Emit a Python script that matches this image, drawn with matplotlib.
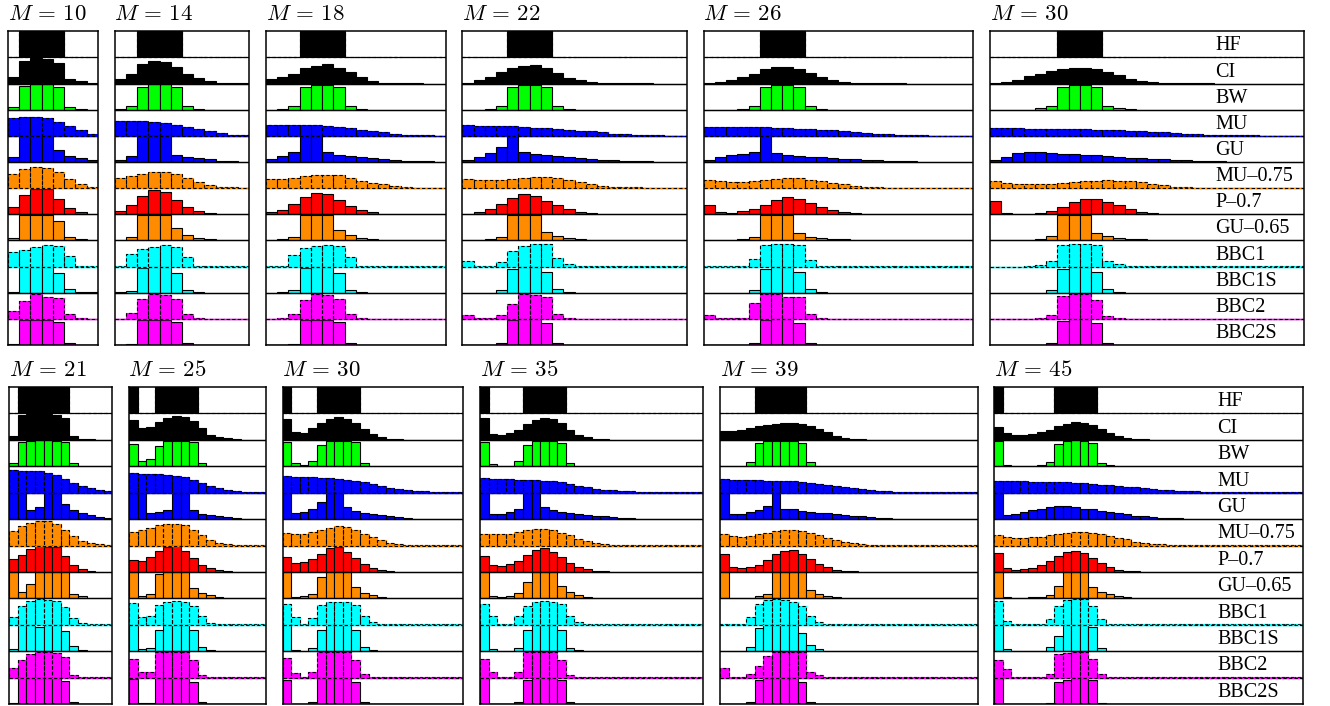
import numpy as np
import matplotlib
matplotlib.use("Agg")
import matplotlib.pyplot as plt
from matplotlib.transforms import blended_transform_factory

plt.rcParams['mathtext.fontset'] = 'cm'
plt.rcParams['font.family'] = ['Liberation Serif', 'DejaVu Serif']

# rows of every panel, top to bottom
methods = ["HF", "CI", "BW", "MU", "GU", "MU–0.75", "P–0.7", "GU–0.65",
           "BBC1", "BBC1S", "BBC2", "BBC2S"]
colors = ["black", "black", "#00ff00", "#0000ff", "#0000ff", "#ff8c00",
          "#ff0000", "#ff8c00", "#00ffff", "#00ffff", "#ff00ff", "#ff00ff"]
dashed = [True, False, False, True, False, True, False, False, True, False, True, False]

top_M = [10, 14, 18, 22, 26, 30]
top_bins = [8, 12, 16, 20, 24, 28]
bot_M = [21, 25, 30, 35, 39, 45]
bot_bins = [12, 16, 21, 26, 30, 36]

# histogram heights, in units of one row height
top_m10 = {
    "HF": [0, 1, 1, 1, 1, 0, 0, 0],
    "CI": [0.25, 0.88, 0.97, 0.95, 0.8, 0.17, 0.08, 0.02],
    "BW": [0.12, 0.9, 0.97, 0.97, 0.88, 0.1, 0.01, 0],
    "MU": [0.7, 0.74, 0.72, 0.67, 0.53, 0.36, 0.22, 0.09],
    "GU": [0.18, 0.98, 0.98, 0.98, 0.45, 0.23, 0.14, 0.07],
    "MU–0.75": [0.55, 0.72, 0.81, 0.78, 0.6, 0.35, 0.14, 0.05],
    "P–0.7": [0.28, 0.75, 0.96, 0.96, 0.6, 0.24, 0.09, 0.03],
    "GU–0.65": [0.08, 0.98, 0.98, 0.98, 0.73, 0.13, 0.05, 0.01],
    "BBC1": [0.54, 0.65, 0.74, 0.81, 0.77, 0.41, 0.04, 0.03],
    "BBC1S": [0.04, 0.98, 0.98, 0.98, 0.75, 0.14, 0.02, 0.01],
    "BBC2": [0.3, 0.67, 0.97, 0.85, 0.8, 0.19, 0.03, 0.01],
    "BBC2S": [0.02, 0.97, 0.97, 0.97, 0.87, 0.07, 0.01, 0],
}
top_m14 = {
    "HF": [0, 0, 1, 1, 1, 1, 0, 0, 0, 0, 0, 0],
    "CI": [0.18, 0.38, 0.73, 0.86, 0.81, 0.64, 0.37, 0.2, 0.09, 0.02, 0.01, 0.01],
    "BW": [0.01, 0.15, 0.87, 0.97, 0.97, 0.87, 0.14, 0.02, 0, 0, 0, 0],
    "MU": [0.55, 0.55, 0.55, 0.53, 0.49, 0.41, 0.33, 0.26, 0.17, 0.1, 0.05, 0.03],
    "GU": [0.07, 0.23, 0.98, 0.98, 0.98, 0.27, 0.18, 0.15, 0.1, 0.05, 0.02, 0.01],
    "MU–0.75": [0.37, 0.45, 0.54, 0.6, 0.62, 0.55, 0.4, 0.24, 0.13, 0.05, 0.03, 0.02],
    "P–0.7": [0.12, 0.35, 0.69, 0.93, 0.86, 0.56, 0.28, 0.12, 0.04, 0.02, 0.01, 0.01],
    "GU–0.65": [0.01, 0.13, 0.98, 0.98, 0.98, 0.47, 0.19, 0.09, 0.04, 0.02, 0.01, 0.01],
    "BBC1": [0.01, 0.5, 0.69, 0.74, 0.81, 0.76, 0.38, 0.04, 0.02, 0.01, 0.01, 0.01],
    "BBC1S": [0.01, 0.07, 0.95, 0.98, 0.98, 0.75, 0.11, 0.02, 0, 0, 0, 0],
    "BBC2": [0.01, 0.24, 0.77, 0.96, 0.92, 0.76, 0.18, 0.05, 0.01, 0.01, 0.01, 0.01],
    "BBC2S": [0, 0.05, 0.96, 0.97, 0.97, 0.88, 0.07, 0.01, 0, 0, 0, 0],
}
top_m18 = {
    "HF": [0, 0, 0, 1, 1, 1, 1, 0, 0, 0, 0, 0, 0, 0, 0, 0],
    "CI": [0.17, 0.26, 0.38, 0.58, 0.69, 0.73, 0.61, 0.45, 0.27, 0.1,
           0.02, 0.01, 0.01, 0.01, 0, 0],
    "BW": [0, 0.02, 0.14, 0.86, 0.96, 0.96, 0.86, 0.15, 0.02, 0, 0, 0, 0, 0, 0, 0],
    "MU": [0.42, 0.43, 0.43, 0.42, 0.41, 0.38, 0.35, 0.29, 0.23, 0.18,
           0.13, 0.09, 0.05, 0.03, 0.02, 0.01],
    "GU": [0.1, 0.22, 0.37, 0.98, 0.98, 0.37, 0.27, 0.22, 0.18, 0.14,
           0.11, 0.07, 0.05, 0.03, 0.02, 0.01],
    "MU–0.75": [0.36, 0.36, 0.38, 0.45, 0.5, 0.51, 0.49, 0.4, 0.28, 0.2,
                0.14, 0.08, 0.04, 0.02, 0.01, 0.01],
    "P–0.7": [0.08, 0.18, 0.4, 0.66, 0.82, 0.77, 0.56, 0.32, 0.17, 0.08,
              0.03, 0.01, 0.01, 0.01, 0, 0],
    "GU–0.65": [0.01, 0.06, 0.15, 0.98, 0.98, 0.98, 0.38, 0.19, 0.11, 0.06,
                0.03, 0.02, 0.01, 0.01, 0.01, 0.01],
    "BBC1": [0.01, 0.02, 0.46, 0.72, 0.78, 0.81, 0.77, 0.35, 0.04, 0.01,
             0.01, 0.01, 0.01, 0.01, 0.01, 0.01],
    "BBC1S": [0, 0.01, 0.09, 0.94, 0.98, 0.98, 0.76, 0.12, 0.01, 0, 0, 0, 0, 0, 0, 0],
    "BBC2": [0.01, 0.02, 0.2, 0.74, 0.95, 0.92, 0.77, 0.17, 0.03, 0.01,
             0.01, 0.01, 0.01, 0.01, 0.01, 0.01],
    "BBC2S": [0, 0.01, 0.05, 0.95, 0.97, 0.97, 0.88, 0.06, 0, 0, 0, 0, 0, 0, 0, 0],
}
top_m22 = {
    "HF": [0, 0, 0, 0, 1, 1, 1, 1, 0, 0,
           0, 0, 0, 0, 0, 0, 0, 0, 0, 0],
    "CI": [0.02, 0.14, 0.26, 0.44, 0.59, 0.69, 0.7, 0.59, 0.41, 0.23,
           0.13, 0.06, 0.03, 0.01, 0.01, 0.01, 0.01, 0, 0, 0],
    "BW": [0, 0, 0.02, 0.15, 0.86, 0.96, 0.96, 0.86, 0.15, 0.02,
           0, 0, 0, 0, 0, 0, 0, 0, 0, 0],
    "MU": [0.41, 0.38, 0.38, 0.37, 0.36, 0.33, 0.32, 0.29, 0.27, 0.24,
           0.2, 0.17, 0.13, 0.09, 0.06, 0.04, 0.03, 0.02, 0.01, 0.01],
    "GU": [0.09, 0.2, 0.33, 0.57, 0.98, 0.4, 0.31, 0.26, 0.22, 0.18,
           0.14, 0.11, 0.09, 0.06, 0.04, 0.02, 0.02, 0.01, 0, 0],
    "MU–0.75": [0.35, 0.31, 0.31, 0.33, 0.36, 0.4, 0.42, 0.42, 0.37, 0.32,
                0.24, 0.17, 0.1, 0.06, 0.04, 0.03, 0.02, 0.01, 0.01, 0.01],
    "P–0.7": [0.01, 0.08, 0.2, 0.41, 0.61, 0.76, 0.69, 0.52, 0.35, 0.19,
              0.1, 0.04, 0.02, 0.01, 0.01, 0.01, 0.01, 0.01, 0.01, 0.01],
    "GU–0.65": [0, 0.01, 0.06, 0.15, 0.98, 0.98, 0.98, 0.31, 0.17, 0.09,
                0.05, 0.03, 0.02, 0.01, 0.01, 0.01, 0.01, 0.01, 0.01, 0.01],
    "BBC1": [0.2, 0.02, 0.02, 0.19, 0.6, 0.77, 0.86, 0.88, 0.32, 0.08,
             0.02, 0.01, 0.01, 0.01, 0.01, 0.01, 0.01, 0.01, 0.01, 0.01],
    "BBC1S": [0, 0, 0, 0.09, 0.92, 0.98, 0.98, 0.78, 0.13, 0.02,
              0, 0, 0, 0, 0, 0, 0, 0, 0, 0],
    "BBC2": [0.13, 0.02, 0.02, 0.15, 0.56, 0.96, 0.92, 0.85, 0.19, 0.04,
             0.01, 0.01, 0.01, 0.01, 0.01, 0.01, 0.01, 0.01, 0.01, 0.01],
    "BBC2S": [0, 0, 0, 0.06, 0.95, 0.98, 0.98, 0.86, 0.06, 0,
              0, 0, 0, 0, 0, 0, 0, 0, 0, 0],
}
top_m26 = {
    "HF": [0, 0, 0, 0, 0, 1, 1, 1, 1, 0,
           0, 0, 0, 0, 0, 0, 0, 0, 0, 0, 0, 0, 0, 0],
    "CI": [0.02, 0.05, 0.15, 0.27, 0.38, 0.54, 0.63, 0.63, 0.54, 0.4,
           0.26, 0.14, 0.06, 0.03, 0.01, 0.01, 0.01, 0.01, 0, 0, 0, 0, 0, 0],
    "BW": [0, 0, 0, 0.02, 0.15, 0.86, 0.96, 0.96, 0.86, 0.15,
           0.02, 0, 0, 0, 0, 0, 0, 0, 0, 0, 0, 0, 0, 0],
    "MU": [0.35, 0.33, 0.33, 0.33, 0.33, 0.33, 0.32, 0.31, 0.28, 0.27,
           0.24, 0.22, 0.19, 0.15, 0.12, 0.09, 0.06, 0.04, 0.03, 0.02,
           0.01, 0.01, 0.01, 0.01],
    "GU": [0.08, 0.18, 0.27, 0.32, 0.37, 0.98, 0.33, 0.28, 0.24, 0.2,
           0.18, 0.15, 0.13, 0.1, 0.08, 0.06, 0.04, 0.03, 0.02, 0.01,
           0, 0, 0, 0],
    "MU–0.75": [0.31, 0.26, 0.24, 0.24, 0.27, 0.31, 0.35, 0.38, 0.37, 0.33,
                0.27, 0.2, 0.15, 0.1, 0.05, 0.03, 0.02, 0.01, 0.01, 0.01,
                0.01, 0.01, 0.01, 0.01],
    "P–0.7": [0.37, 0.08, 0.06, 0.12, 0.2, 0.37, 0.55, 0.65, 0.6, 0.43,
              0.27, 0.15, 0.08, 0.04, 0.02, 0.01, 0.01, 0.01, 0.01, 0.01,
              0.01, 0.01, 0.01, 0.01],
    "GU–0.65": [0, 0, 0.02, 0.06, 0.15, 0.98, 0.98, 0.98, 0.27, 0.15,
                0.1, 0.06, 0.04, 0.02, 0.01, 0.01, 0.01, 0.01, 0.01, 0.01,
                0.01, 0.01, 0.01, 0.01],
    "BBC1": [0.01, 0.01, 0.01, 0.04, 0.29, 0.81, 0.86, 0.86, 0.81, 0.26,
             0.04, 0.01, 0.01, 0.01, 0.01, 0.01, 0.01, 0.01, 0.01, 0.01,
             0.01, 0.01, 0.01, 0.01],
    "BBC1S": [0, 0, 0, 0, 0.1, 0.91, 0.98, 0.98, 0.78, 0.14,
              0.02, 0, 0, 0, 0, 0, 0, 0, 0, 0, 0, 0, 0, 0],
    "BBC2": [0.13, 0.02, 0.02, 0.03, 0.59, 0.96, 0.96, 0.85, 0.84, 0.19,
             0.04, 0.01, 0.01, 0.01, 0.01, 0.01, 0.01, 0.01, 0.01, 0.01,
             0.01, 0.01, 0.01, 0.01],
    "BBC2S": [0, 0, 0, 0, 0.06, 0.95, 0.98, 0.98, 0.86, 0.06,
              0, 0, 0, 0, 0, 0, 0, 0, 0, 0, 0, 0, 0, 0],
}
top_m30 = {
    "HF": [0, 0, 0, 0, 0, 0, 1, 1, 1, 1,
           0, 0, 0, 0, 0, 0, 0, 0, 0, 0,
           0, 0, 0, 0, 0, 0, 0, 0],
    "CI": [0.01, 0.06, 0.14, 0.28, 0.38, 0.5, 0.56, 0.6, 0.6, 0.54,
           0.45, 0.32, 0.19, 0.1, 0.05, 0.02, 0.01, 0.01, 0.01, 0.01,
           0, 0, 0, 0, 0, 0, 0, 0],
    "BW": [0, 0, 0, 0, 0.06, 0.15, 0.86, 0.96, 0.96, 0.86,
           0.15, 0.05, 0.01, 0, 0, 0, 0, 0, 0, 0,
           0, 0, 0, 0, 0, 0, 0, 0],
    "MU": [0.31, 0.29, 0.29, 0.28, 0.28, 0.27, 0.27, 0.27, 0.26, 0.24,
           0.23, 0.22, 0.19, 0.18, 0.15, 0.14, 0.12, 0.09, 0.08, 0.05,
           0.04, 0.03, 0.02, 0.02, 0.01, 0.01, 0.01, 0.01],
    "GU": [0.08, 0.2, 0.33, 0.38, 0.38, 0.35, 0.31, 0.3, 0.27, 0.26,
           0.22, 0.19, 0.17, 0.14, 0.12, 0.1, 0.08, 0.06, 0.05, 0.03,
           0.02, 0.01, 0, 0, 0, 0, 0, 0],
    "MU–0.75": [0.29, 0.2, 0.17, 0.15, 0.15, 0.15, 0.18, 0.22, 0.26, 0.29,
                0.31, 0.29, 0.26, 0.22, 0.17, 0.12, 0.06, 0.04, 0.02, 0.01,
                0.01, 0.01, 0.01, 0.01, 0.01, 0.01, 0.01, 0.01],
    "P–0.7": [0.5, 0.04, 0.02, 0.02, 0.06, 0.14, 0.29, 0.46, 0.6, 0.6,
              0.47, 0.35, 0.19, 0.1, 0.04, 0.02, 0.01, 0.01, 0.01, 0.01,
              0.01, 0.01, 0.01, 0.01, 0.01, 0.01, 0.01, 0.01],
    "GU–0.65": [0, 0, 0, 0, 0.04, 0.17, 0.98, 0.98, 0.98, 0.27,
                0.17, 0.1, 0.06, 0.04, 0.02, 0.01, 0.01, 0.01, 0.01, 0.01,
                0.01, 0.01, 0.01, 0.01, 0.01, 0.01, 0.01, 0.01],
    "BBC1": [0, 0, 0, 0.02, 0.06, 0.22, 0.83, 0.86, 0.86, 0.84,
             0.22, 0.08, 0.02, 0.01, 0.01, 0.01, 0.01, 0.01, 0.01, 0.01,
             0.01, 0.01, 0.01, 0.01, 0.01, 0.01, 0.01, 0.01],
    "BBC1S": [0, 0, 0, 0, 0, 0.1, 0.91, 0.97, 0.97, 0.79,
              0.14, 0.02, 0, 0, 0, 0, 0, 0, 0, 0,
              0, 0, 0, 0, 0, 0, 0, 0],
    "BBC2": [0, 0, 0, 0, 0.04, 0.14, 0.87, 0.97, 0.95, 0.74,
             0.1, 0.03, 0.01, 0.01, 0.01, 0.01, 0.01, 0.01, 0.01, 0.01,
             0.01, 0.01, 0.01, 0.01, 0.01, 0.01, 0.01, 0.01],
    "BBC2S": [0, 0, 0, 0, 0, 0.07, 0.92, 0.99, 0.99, 0.84,
              0.07, 0, 0, 0, 0, 0, 0, 0, 0, 0,
              0, 0, 0, 0, 0, 0, 0, 0],
}

bot_m21 = {
    "HF": [0, 1, 1, 1, 1, 1, 1, 0, 0, 0, 0, 0],
    "CI": [0.16, 0.95, 0.97, 0.97, 0.97, 0.95, 0.83, 0.13, 0.04, 0.02, 0.01, 0.01],
    "BW": [0.11, 0.92, 0.97, 0.99, 0.99, 0.97, 0.91, 0.11, 0.02, 0, 0, 0],
    "MU": [0.84, 0.82, 0.81, 0.81, 0.73, 0.66, 0.52, 0.37, 0.25, 0.16, 0.1, 0.05],
    "GU": [0.98, 0.98, 0.34, 0.46, 0.98, 0.98, 0.56, 0.34, 0.22, 0.14, 0.08, 0.04],
    "MU–0.75": [0.56, 0.73, 0.85, 0.92, 0.94, 0.81, 0.6, 0.37, 0.18, 0.09, 0.04, 0.02],
    "P–0.7": [0.5, 0.63, 0.87, 0.97, 0.96, 0.96, 0.59, 0.28, 0.11, 0.03, 0.01, 0.01],
    "GU–0.65": [0.98, 0.24, 0.53, 0.98, 0.98, 0.98, 0.98, 0.15, 0.08, 0.02, 0.01, 0.01],
    "BBC1": [0.28, 0.7, 0.89, 0.98, 0.95, 0.89, 0.68, 0.25, 0.06, 0.02, 0.01, 0.01],
    "BBC1S": [0.08, 0.98, 0.98, 0.93, 0.98, 0.98, 0.76, 0.18, 0.06, 0.02, 0, 0],
    "BBC2": [0.35, 0.65, 0.89, 0.96, 0.96, 0.94, 0.77, 0.09, 0.03, 0.01, 0.01, 0.01],
    "BBC2S": [0.02, 0.98, 0.98, 0.98, 0.98, 0.98, 0.86, 0.06, 0, 0, 0, 0],
}
bot_m25 = {
    "HF": [1, 0, 0, 1, 1, 1, 1, 1, 0, 0, 0, 0, 0, 0, 0, 0],
    "CI": [0.74, 0.46, 0.5, 0.68, 0.83, 0.91, 0.85, 0.72, 0.46, 0.19,
           0.1, 0.06, 0.03, 0.01, 0.01, 0.01],
    "BW": [0.85, 0.18, 0.27, 0.76, 0.97, 0.97, 0.97, 0.91, 0.11, 0.02,
           0, 0, 0, 0, 0, 0],
    "MU": [0.73, 0.71, 0.71, 0.69, 0.67, 0.63, 0.58, 0.48, 0.35, 0.25,
           0.18, 0.11, 0.08, 0.04, 0.02, 0.01],
    "GU": [0.98, 0.98, 0.23, 0.25, 0.35, 0.98, 0.98, 0.35, 0.21, 0.15,
           0.1, 0.06, 0.04, 0.02, 0.01, 0],
    "MU–0.75": [0.51, 0.58, 0.67, 0.76, 0.82, 0.82, 0.76, 0.58, 0.39, 0.2,
                0.09, 0.04, 0.02, 0.01, 0.01, 0.01],
    "P–0.7": [0.47, 0.43, 0.58, 0.8, 0.96, 0.98, 0.81, 0.51, 0.25, 0.13,
              0.06, 0.03, 0.01, 0.01, 0.01, 0.01],
    "GU–0.65": [0.98, 0.09, 0.15, 0.94, 0.98, 0.98, 0.98, 0.41, 0.2, 0.11,
                0.06, 0.03, 0.01, 0.01, 0.01, 0.01],
    "BBC1": [0.82, 0.28, 0.32, 0.75, 0.86, 0.89, 0.86, 0.72, 0.34, 0.06,
             0.01, 0.01, 0.01, 0.01, 0.01, 0.01],
    "BBC1S": [0.98, 0.08, 0.13, 0.8, 0.98, 0.98, 0.98, 0.8, 0.15, 0.06,
              0.01, 0.01, 0.01, 0.01, 0.01, 0.01],
    "BBC2": [0.71, 0.23, 0.22, 0.98, 0.98, 0.98, 0.98, 0.68, 0.11, 0.03,
             0.01, 0.01, 0.01, 0.01, 0.01, 0.01],
    "BBC2S": [0.95, 0.02, 0.02, 0.98, 0.98, 0.98, 0.98, 0.84, 0.06, 0,
              0, 0, 0, 0, 0, 0],
}
bot_m30 = {
    "HF": [1, 0, 0, 0, 1, 1, 1, 1, 1, 0,
           0, 0, 0, 0, 0, 0, 0, 0, 0, 0, 0],
    "CI": [0.78, 0.3, 0.27, 0.44, 0.64, 0.8, 0.85, 0.8, 0.64, 0.4,
           0.21, 0.11, 0.05, 0.02, 0.01, 0.01, 0.01, 0.01, 0, 0, 0],
    "BW": [0.91, 0.11, 0.05, 0.18, 0.82, 0.96, 0.96, 0.96, 0.91, 0.11,
           0.02, 0, 0, 0, 0, 0, 0, 0, 0, 0, 0],
    "MU": [0.63, 0.61, 0.6, 0.58, 0.57, 0.56, 0.53, 0.49, 0.46, 0.39,
           0.32, 0.25, 0.19, 0.14, 0.1, 0.08, 0.05, 0.03, 0.02, 0.01, 0.01],
    "GU": [0.98, 0.22, 0.25, 0.38, 0.63, 0.98, 0.98, 0.45, 0.29, 0.24,
           0.19, 0.14, 0.1, 0.06, 0.04, 0.02, 0.01, 0, 0, 0, 0],
    "MU–0.75": [0.48, 0.45, 0.45, 0.52, 0.59, 0.68, 0.72, 0.69, 0.6, 0.45,
                0.33, 0.2, 0.11, 0.05, 0.03, 0.02, 0.01, 0.01, 0.01, 0.01, 0.01],
    "P–0.7": [0.56, 0.33, 0.37, 0.49, 0.69, 0.89, 0.94, 0.77, 0.53, 0.3,
              0.14, 0.08, 0.03, 0.01, 0.01, 0.01, 0.01, 0.01, 0.01, 0.01, 0.01],
    "GU–0.65": [0.98, 0.06, 0.08, 0.18, 0.79, 0.98, 0.98, 0.98, 0.43, 0.22,
                0.13, 0.06, 0.03, 0.01, 0.01, 0.01, 0.01, 0.01, 0.01, 0.01, 0.01],
    "BBC1": [0.8, 0.28, 0.02, 0.27, 0.74, 0.85, 0.88, 0.85, 0.75, 0.33,
             0.1, 0.03, 0.01, 0.01, 0.01, 0.01, 0.01, 0.01, 0.01, 0.01, 0.01],
    "BBC1S": [0.98, 0.03, 0.02, 0.11, 0.8, 0.98, 0.98, 0.98, 0.8, 0.15,
              0.04, 0.01, 0.01, 0.01, 0, 0, 0, 0, 0, 0, 0],
    "BBC2": [0.73, 0.18, 0.03, 0.22, 0.98, 0.98, 0.98, 0.96, 0.68, 0.13,
             0.03, 0.01, 0.01, 0.01, 0.01, 0.01, 0.01, 0.01, 0.01, 0.01, 0.01],
    "BBC2S": [0.92, 0.01, 0.01, 0.06, 0.98, 0.98, 0.98, 0.98, 0.82, 0.07,
              0, 0, 0, 0, 0, 0, 0, 0, 0, 0, 0],
}
bot_m35 = {
    "HF": [1, 0, 0, 0, 0, 1, 1, 1, 1, 1,
           0, 0, 0, 0, 0, 0, 0, 0, 0, 0, 0, 0, 0, 0, 0, 0],
    "CI": [0.82, 0.23, 0.19, 0.25, 0.39, 0.6, 0.75, 0.82, 0.78, 0.63,
           0.39, 0.19, 0.1, 0.05, 0.02, 0.01, 0.01, 0.01, 0.01, 0.01,
           0, 0, 0, 0, 0, 0],
    "BW": [0.92, 0.09, 0.02, 0.02, 0.18, 0.82, 0.96, 0.96, 0.96, 0.89,
           0.11, 0.02, 0, 0, 0, 0, 0, 0, 0, 0, 0, 0, 0, 0, 0, 0],
    "MU": [0.54, 0.53, 0.52, 0.51, 0.49, 0.49, 0.48, 0.46, 0.43, 0.39,
           0.32, 0.25, 0.2, 0.15, 0.11, 0.09, 0.06, 0.05, 0.03, 0.02,
           0.01, 0.01, 0.01, 0.01, 0.01, 0.01],
    "GU": [0.98, 0.18, 0.18, 0.25, 0.37, 0.98, 0.98, 0.44, 0.34, 0.28,
           0.24, 0.19, 0.15, 0.13, 0.1, 0.08, 0.05, 0.03, 0.02, 0.01,
           0, 0, 0, 0, 0, 0],
    "MU–0.75": [0.44, 0.42, 0.42, 0.45, 0.52, 0.59, 0.64, 0.64, 0.59, 0.49,
                0.38, 0.26, 0.18, 0.1, 0.05, 0.03, 0.02, 0.01, 0.01, 0.01,
                0.01, 0.01, 0.01, 0.01, 0.01, 0.01],
    "P–0.7": [0.62, 0.25, 0.21, 0.29, 0.43, 0.64, 0.82, 0.89, 0.76, 0.55,
              0.33, 0.19, 0.1, 0.05, 0.02, 0.01, 0.01, 0.01, 0.01, 0.01,
              0.01, 0.01, 0.01, 0.01, 0.01, 0.01],
    "GU–0.65": [0.98, 0.08, 0.06, 0.1, 0.2, 0.62, 0.98, 0.98, 0.98, 0.48,
                0.23, 0.13, 0.06, 0.03, 0.01, 0.01, 0.01, 0.01, 0.01, 0.01,
                0.01, 0.01, 0.01, 0.01, 0.01, 0.01],
    "BBC1": [0.79, 0.35, 0.01, 0.02, 0.32, 0.72, 0.85, 0.89, 0.87, 0.77,
             0.32, 0.09, 0.02, 0.01, 0.01, 0.01, 0.01, 0.01, 0.01, 0.01,
             0.01, 0.01, 0.01, 0.01, 0.01, 0.01],
    "BBC1S": [0.98, 0.08, 0.02, 0.02, 0.13, 0.79, 0.98, 0.98, 0.98, 0.82,
              0.13, 0.06, 0.01, 0.01, 0, 0, 0, 0, 0, 0, 0, 0, 0, 0, 0, 0],
    "BBC2": [0.71, 0.23, 0.02, 0.02, 0.23, 0.98, 0.98, 0.98, 0.98, 0.66,
             0.11, 0.03, 0.01, 0.01, 0.01, 0.01, 0.01, 0.01, 0.01, 0.01,
             0.01, 0.01, 0.01, 0.01, 0.01, 0.01],
    "BBC2S": [0.97, 0.01, 0.01, 0.01, 0.06, 0.89, 0.98, 0.98, 0.98, 0.89,
              0.07, 0, 0, 0, 0, 0, 0, 0, 0, 0, 0, 0, 0, 0, 0, 0],
}
bot_m39 = {
    "HF": [0, 0, 0, 0, 1, 1, 1, 1, 1, 1,
           0, 0, 0, 0, 0, 0, 0, 0, 0, 0,
           0, 0, 0, 0, 0, 0, 0, 0, 0, 0],
    "CI": [0.34, 0.35, 0.39, 0.44, 0.52, 0.57, 0.61, 0.62, 0.62, 0.6,
           0.52, 0.42, 0.29, 0.16, 0.08, 0.04, 0.02, 0.01, 0.01, 0.01,
           0.01, 0, 0, 0, 0, 0, 0, 0, 0, 0],
    "BW": [0, 0, 0, 0.15, 0.87, 0.97, 0.97, 0.97, 0.97, 0.87,
           0.15, 0.02, 0, 0, 0, 0, 0, 0, 0, 0,
           0, 0, 0, 0, 0, 0, 0, 0, 0, 0],
    "MU": [0.52, 0.49, 0.48, 0.47, 0.47, 0.46, 0.44, 0.44, 0.43, 0.41,
           0.38, 0.34, 0.3, 0.25, 0.2, 0.16, 0.13, 0.1, 0.08, 0.05,
           0.04, 0.03, 0.02, 0.01, 0.01, 0.01, 0.01, 0.01, 0.01, 0.01],
    "GU": [0.98, 0.19, 0.19, 0.25, 0.33, 0.48, 0.98, 0.4, 0.37, 0.32,
           0.27, 0.24, 0.22, 0.19, 0.15, 0.13, 0.1, 0.06, 0.04, 0.03,
           0.02, 0.01, 0.01, 0.01, 0, 0, 0, 0, 0, 0],
    "MU–0.75": [0.42, 0.35, 0.34, 0.37, 0.42, 0.48, 0.53, 0.57, 0.58, 0.54,
                0.47, 0.38, 0.29, 0.2, 0.13, 0.08, 0.04, 0.02, 0.01, 0.01,
                0.01, 0.01, 0.01, 0.01, 0.01, 0.01, 0.01, 0.01, 0.01, 0.01],
    "P–0.7": [0.69, 0.2, 0.14, 0.19, 0.28, 0.47, 0.67, 0.81, 0.82, 0.69,
              0.49, 0.3, 0.18, 0.09, 0.04, 0.02, 0.01, 0.01, 0.01, 0.01,
              0.01, 0.01, 0.01, 0.01, 0.01, 0.01, 0.01, 0.01, 0.01, 0.01],
    "GU–0.65": [0.98, 0.02, 0.02, 0.02, 0.08, 0.18, 0.98, 0.98, 0.98, 0.98,
                0.31, 0.17, 0.1, 0.06, 0.03, 0.01, 0.01, 0.01, 0.01, 0.01,
                0.01, 0.01, 0.01, 0.01, 0.01, 0.01, 0.01, 0.01, 0.01, 0.01],
    "BBC1": [0.01, 0.01, 0.01, 0.29, 0.78, 0.92, 0.97, 0.95, 0.87, 0.71,
             0.32, 0.1, 0.02, 0.01, 0.01, 0.01, 0.01, 0.01, 0.01, 0.01,
             0.01, 0.01, 0.01, 0.01, 0.01, 0.01, 0.01, 0.01, 0.01, 0.01],
    "BBC1S": [0, 0, 0, 0.15, 0.87, 0.98, 0.98, 0.98, 0.98, 0.7,
              0.22, 0.09, 0.02, 0, 0, 0, 0, 0, 0, 0,
              0, 0, 0, 0, 0, 0, 0, 0, 0, 0],
    "BBC2": [0.35, 0.02, 0.02, 0.14, 0.42, 0.81, 0.98, 0.98, 0.98, 0.96,
             0.2, 0.08, 0.01, 0.01, 0.01, 0.01, 0.01, 0.01, 0.01, 0.01,
             0.01, 0.01, 0.01, 0.01, 0.01, 0.01, 0.01, 0.01, 0.01, 0.01],
    "BBC2S": [0, 0, 0, 0.06, 0.92, 0.98, 0.98, 0.98, 0.98, 0.84,
              0.07, 0, 0, 0, 0, 0, 0, 0, 0, 0,
              0, 0, 0, 0, 0, 0, 0, 0, 0, 0],
}
bot_m45 = {
    "HF": [1, 0, 0, 0, 0, 0, 0, 1, 1, 1,
           1, 1, 0, 0, 0, 0, 0, 0, 0, 0,
           0, 0, 0, 0, 0, 0, 0, 0, 0, 0,
           0, 0, 0, 0, 0, 0],
    "CI": [0.47, 0.25, 0.2, 0.2, 0.21, 0.28, 0.39, 0.52, 0.61, 0.66,
           0.65, 0.56, 0.42, 0.26, 0.15, 0.08, 0.04, 0.02, 0.01, 0.01,
           0.01, 0.01, 0, 0, 0, 0, 0, 0, 0, 0,
           0, 0, 0, 0, 0, 0],
    "BW": [0.94, 0.05, 0.02, 0.01, 0.02, 0.03, 0.16, 0.84, 0.96, 0.99,
           0.96, 0.88, 0.13, 0.03, 0, 0, 0, 0, 0, 0,
           0, 0, 0, 0, 0, 0, 0, 0, 0, 0,
           0, 0, 0, 0, 0, 0],
    "MU": [0.44, 0.44, 0.43, 0.43, 0.42, 0.42, 0.41, 0.41, 0.39, 0.38,
           0.35, 0.33, 0.3, 0.28, 0.25, 0.23, 0.2, 0.18, 0.14, 0.11,
           0.09, 0.08, 0.06, 0.05, 0.04, 0.03, 0.02, 0.01, 0.01, 0.01,
           0.01, 0.01, 0.01, 0.01, 0.01, 0.01],
    "GU": [0.98, 0.16, 0.2, 0.25, 0.33, 0.4, 0.47, 0.5, 0.48, 0.44,
           0.4, 0.37, 0.32, 0.27, 0.22, 0.18, 0.13, 0.1, 0.06, 0.05,
           0.04, 0.03, 0.02, 0.01, 0.01, 0.01, 0, 0, 0, 0,
           0, 0, 0, 0, 0, 0],
    "MU–0.75": [0.38, 0.33, 0.3, 0.3, 0.32, 0.34, 0.39, 0.44, 0.48, 0.5,
                0.5, 0.48, 0.43, 0.37, 0.3, 0.23, 0.15, 0.1, 0.06, 0.04,
                0.02, 0.01, 0.01, 0.01, 0.01, 0.01, 0.01, 0.01, 0.01, 0.01,
                0.01, 0.01, 0.01, 0.01, 0.01, 0.01],
    "P–0.7": [0.73, 0.13, 0.06, 0.1, 0.15, 0.25, 0.42, 0.59, 0.76, 0.8,
              0.71, 0.51, 0.34, 0.19, 0.09, 0.04, 0.02, 0.01, 0.01, 0.01,
              0.01, 0.01, 0.01, 0.01, 0.01, 0.01, 0.01, 0.01, 0.01, 0.01,
              0.01, 0.01, 0.01, 0.01, 0.01, 0.01],
    "GU–0.65": [0.98, 0.05, 0.02, 0.02, 0.04, 0.06, 0.13, 0.46, 0.98, 0.98,
                0.98, 0.44, 0.24, 0.15, 0.09, 0.05, 0.02, 0.01, 0.01, 0.01,
                0.01, 0.01, 0.01, 0.01, 0.01, 0.01, 0.01, 0.01, 0.01, 0.01,
                0.01, 0.01, 0.01, 0.01, 0.01, 0.01],
    "BBC1": [0.91, 0.14, 0.01, 0.01, 0.02, 0.03, 0.2, 0.7, 0.94, 0.99,
             0.97, 0.7, 0.2, 0.03, 0.01, 0.01, 0.01, 0.01, 0.01, 0.01,
             0.01, 0.01, 0.01, 0.01, 0.01, 0.01, 0.01, 0.01, 0.01, 0.01,
             0.01, 0.01, 0.01, 0.01, 0.01, 0.01],
    "BBC1S": [0.98, 0.08, 0.01, 0.01, 0.01, 0.01, 0.16, 0.58, 0.98, 0.98,
              0.98, 0.9, 0.13, 0.02, 0, 0, 0, 0, 0, 0,
              0, 0, 0, 0, 0, 0, 0, 0, 0, 0,
              0, 0, 0, 0, 0, 0],
    "BBC2": [0.66, 0.34, 0.01, 0.01, 0.01, 0.01, 0.15, 0.89, 0.94, 0.98,
             0.98, 0.69, 0.13, 0.02, 0.01, 0.01, 0.01, 0.01, 0.01, 0.01,
             0.01, 0.01, 0.01, 0.01, 0.01, 0.01, 0.01, 0.01, 0.01, 0.01,
             0.01, 0.01, 0.01, 0.01, 0.01, 0.01],
    "BBC2S": [0.98, 0.01, 0, 0, 0, 0, 0.05, 0.82, 0.91, 0.98,
              0.98, 0.89, 0.05, 0, 0, 0, 0, 0, 0, 0,
              0, 0, 0, 0, 0, 0, 0, 0, 0, 0,
              0, 0, 0, 0, 0, 0],
}

top_panels = [top_m10, top_m14, top_m18, top_m22, top_m26, top_m30]
bot_panels = [bot_m21, bot_m25, bot_m30, bot_m35, bot_m39, bot_m45]

# layout in pixels
W, H = 1330, 706
top_left = [8, 114.7, 266, 462.3, 703.7, 990]
bot_left = [9.3, 129, 282.7, 480, 720.3, 994]
top_bw, bot_bw = 11.22, 8.59          # pixel width of one bin
top_y0, top_y1 = 31.3, 345.0          # pixel top / bottom of panels
bot_y0, bot_y1 = 387.0, 704.0
top_title_base, bot_title_base = 20.0, 375.7


def draw_panel(ax, rows, nbins, labels):
    tr = blended_transform_factory(ax.transAxes, ax.transData)
    for i, name in enumerate(methods):
        base = 11 - i
        vals = np.asarray(rows[name], dtype=float)
        x = np.arange(len(vals))
        if dashed[i]:
            # filled bars, then dashed black outlines on top
            ax.bar(x, vals, width=1, bottom=base, align='edge', color=colors[i],
                   edgecolor=colors[i], linewidth=0.8, zorder=1)
            ax.bar(x, vals, width=1, bottom=base, align='edge', fill=False,
                   edgecolor='black', linewidth=0.8, linestyle=(0, (3, 2)), zorder=1.5)
            if colors[i] != 'black':
                ax.plot([0, nbins], [base, base], color=colors[i], lw=1.0, zorder=2)
            ax.plot([0, nbins], [base, base], color='black', lw=0.8,
                    ls=(0, (3, 2)), zorder=2)
        else:
            ax.bar(x, vals, width=1, bottom=base, align='edge', color=colors[i],
                   edgecolor='black', linewidth=0.8, zorder=1)
            ax.plot([0, nbins], [base, base], color='black', lw=1.0, zorder=2)
        if labels:
            ax.text(labels, base + 0.27, name, transform=tr, fontsize=14.5,
                    ha='left', va='baseline', zorder=4)
    ax.set_xlim(0, nbins)
    ax.set_ylim(0, 12)
    ax.set_xticks([])
    ax.set_yticks([])
    for sp in ax.spines.values():
        sp.set_linewidth(1.1)


fig = plt.figure(figsize=(W / 100, H / 100), dpi=100)

for k in range(6):
    # top row
    left, n = top_left[k], top_bins[k]
    width = n * top_bw
    ax = fig.add_axes([left / W, 1 - top_y1 / H, width / W, (top_y1 - top_y0) / H])
    lab = (1215 - left) / width if k == 5 else None
    draw_panel(ax, top_panels[k], n, lab)
    fig.text((left - 0.5) / W, 1 - top_title_base / H, r'$M\,=\,%d$' % top_M[k],
             fontsize=16.5, ha='left', va='baseline')

    # bottom row
    left, n = bot_left[k], bot_bins[k]
    width = n * bot_bw
    ax = fig.add_axes([left / W, 1 - bot_y1 / H, width / W, (bot_y1 - bot_y0) / H])
    lab = (1217 - left) / width if k == 5 else None
    draw_panel(ax, bot_panels[k], n, lab)
    fig.text((left - 0.5) / W, 1 - bot_title_base / H, r'$M\,=\,%d$' % bot_M[k],
             fontsize=16.5, ha='left', va='baseline')

fig.savefig('out.png', dpi=100)
